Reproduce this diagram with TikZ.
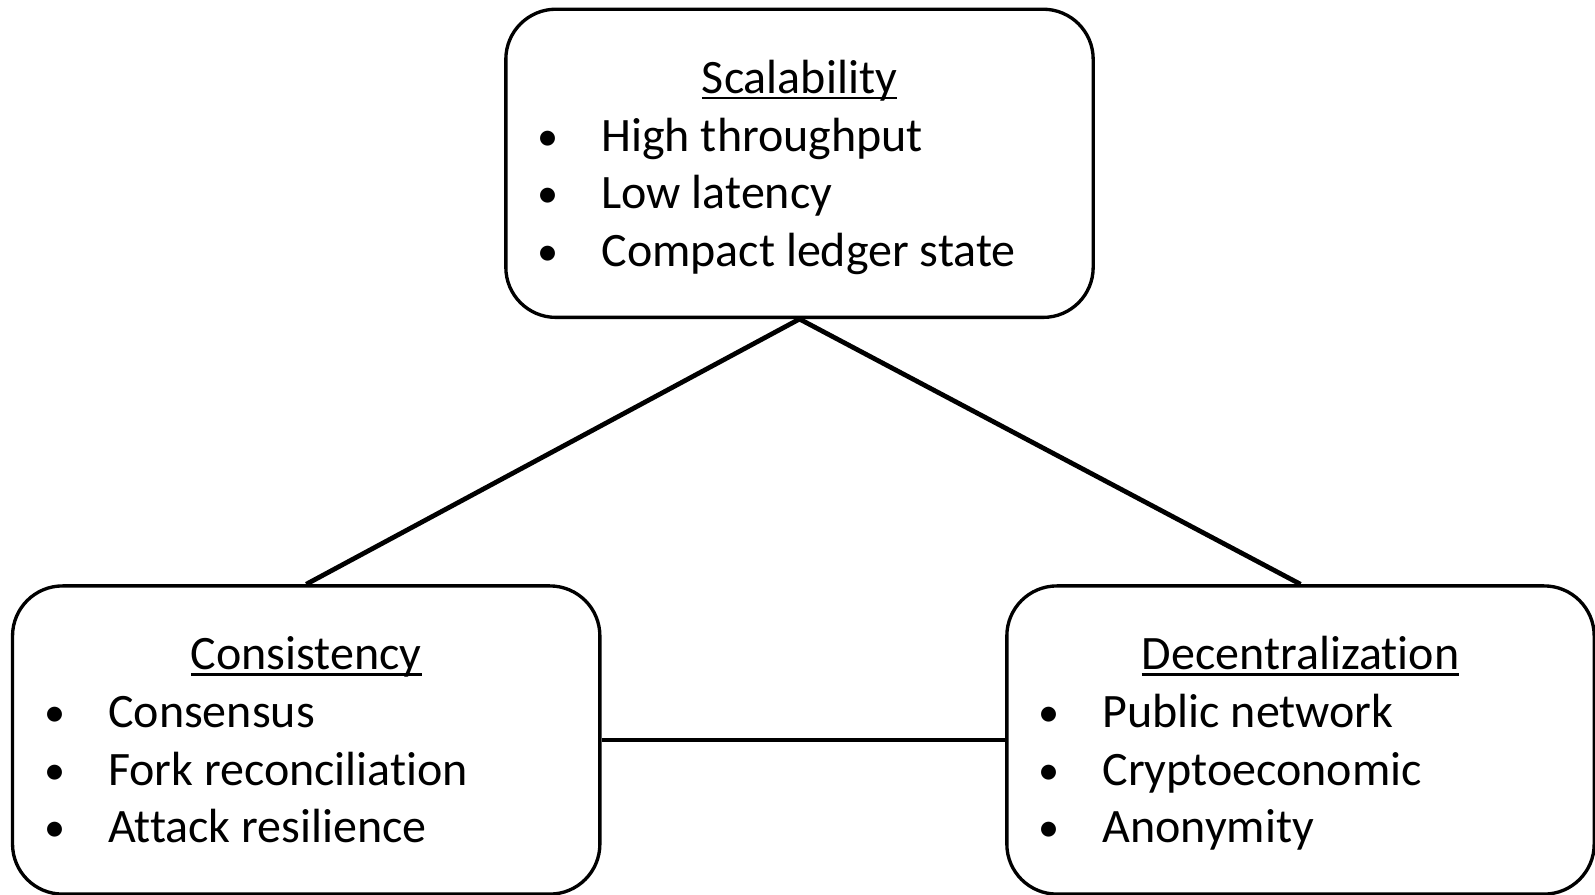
\documentclass[tikz,border=0pt]{standalone}
\usepackage{fontspec}
\setmainfont[Ligatures=NoCommon]{Carlito}
% sublinhado proximo da linha de base, como no original
\newcommand{\sublinha}[1]{\setbox0=\hbox{#1}\rlap{\rule[-0.13em]{\wd0}{0.055em}}\box0}
\begin{document}
\begin{tikzpicture}[
    x=0.01cm, y=-0.01cm,
    % Estilo das caixas arredondadas
    caixa/.style={draw, line width=0.95pt, rounded corners=0.5cm,
        minimum width=5.87cm, minimum height=3.08cm, inner sep=0pt},
    % Estilo dos textos
    titulo/.style={anchor=base, inner sep=0pt, font=\fontsize{13.65}{16}\selectfont},
    item/.style={anchor=base west, inner sep=0pt, font=\fontsize{13.65}{16}\selectfont},
    marca/.style={anchor=base, inner sep=0pt, font=\fontsize{12}{16}\selectfont},
    % Estilo das linhas de ligacao
    ligacao/.style={line width=1.35pt}
]
    \useasboundingbox (0,0) rectangle (1595,894);

    % ==========================================
    % 1. CAIXAS
    % ==========================================
    \node[caixa] (escala)  at (799.5,163.3) {};
    \node[caixa] (consist) at (306.2,740) {};
    \node[caixa] (descent) at (1300.5,740) {};

    % ==========================================
    % 2. TITULOS E TOPICOS
    % ==========================================
    \node[titulo] (escala-t)  at ([yshift=-0.855cm]escala.north)  {\sublinha{Scalability}};
    \node[titulo] (consist-t) at ([yshift=-0.855cm]consist.north) {\sublinha{Consistency}};
    \node[titulo] (descent-t) at ([yshift=-0.855cm]descent.north) {\sublinha{Decentralization}};

    \foreach \caixa/\lista in {escala/{High throughput, Low latency, Compact ledger state},
        consist/{Consensus, Fork reconciliation, Attack resilience},
        descent/{Public network, Cryptoeconomic, Anonymity}}
    {
        \foreach \txt [count=\i] in \lista {
            \node[marca] (\caixa-m\i) at ([xshift=0.44cm, yshift={-(1.425cm+0.575cm*(\i-1))}]\caixa.north west) {•};
            \node[item] (\caixa-\i) at ([xshift=0.965cm, yshift={-(1.435cm+0.575cm*(\i-1))}]\caixa.north west) {\txt};
        }
    }

    % ==========================================
    % 3. LIGACOES
    % ==========================================
    \draw[ligacao] (escala.south) -- (consist.north);
    \draw[ligacao] (escala.south) -- (descent.north);
    \draw[ligacao] (consist.east) -- (descent.west);

\end{tikzpicture}
\end{document}
